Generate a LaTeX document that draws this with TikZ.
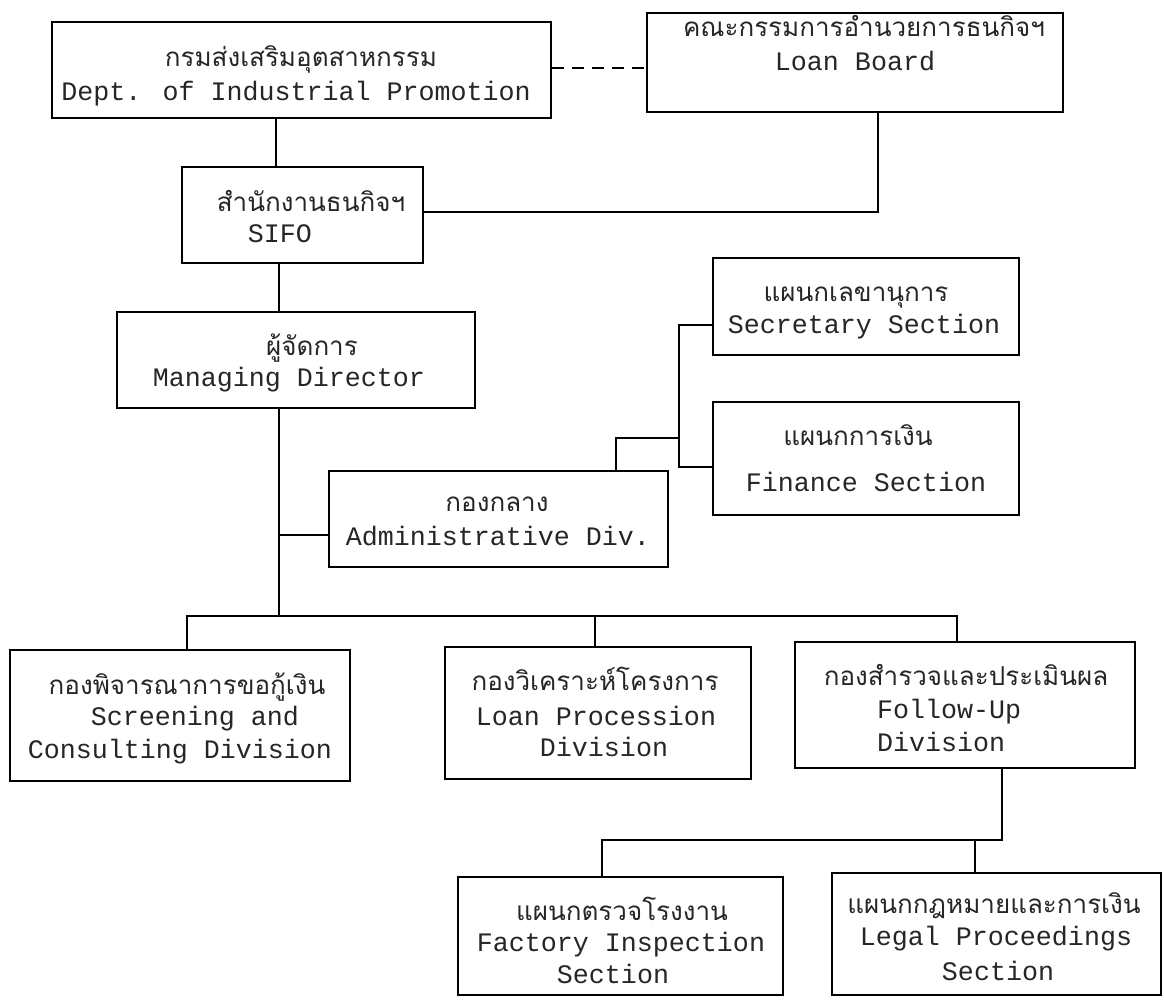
\documentclass[tikz,border=0pt]{standalone}
\usepackage{fontspec}
\newfontfamily\enfont{Liberation Mono}
\newfontfamily\thaifont[Script=Thai]{Loma}
\definecolor{ink}{HTML}{262626}
\begin{document}
\begin{tikzpicture}[x=1pt,y=-1pt,
  box/.style={draw=black, line width=2pt, rectangle, inner sep=0pt},
  conn/.style={draw=black, line width=2pt},
  entext/.style={font=\fontsize{26.67}{30}\selectfont\enfont, anchor=base, inner sep=0pt, text=ink, text height=16pt, text depth=4pt},
  thtext/.style={font=\fontsize{26}{30}\selectfont\thaifont, anchor=base, inner sep=0pt, text=ink, text height=16pt, text depth=3pt}]
\useasboundingbox[fill=white] (0,0) rectangle (1164,1006);
% boxes
\node[box, minimum width=499pt, minimum height=96pt] (dip) at (301.5,70) {};
\node[box, minimum width=416pt, minimum height=99pt] (lb) at (855,62.5) {};
\node[box, minimum width=241pt, minimum height=96pt] (sifo) at (302.5,215) {};
\node[box, minimum width=358pt, minimum height=96pt] (md) at (296,360) {};
\node[box, minimum width=306pt, minimum height=97pt] (sec) at (866,306.5) {};
\node[box, minimum width=306pt, minimum height=113pt] (fin) at (866,458.5) {};
\node[box, minimum width=339pt, minimum height=96pt] (adm) at (498.5,519) {};
\node[box, minimum width=340pt, minimum height=131pt] (scr) at (180,715.5) {};
\node[box, minimum width=306pt, minimum height=132pt] (lp) at (598,713) {};
\node[box, minimum width=340pt, minimum height=126pt] (fu) at (965,705) {};
\node[box, minimum width=325pt, minimum height=118pt] (fac) at (620.5,936) {};
\node[box, minimum width=329pt, minimum height=122pt] (leg) at (996.5,934) {};
% texts
\node[thtext] (dip-th) at (301,67) {กรมส่งเสริมอุตสาหกรรม};
\node[entext] (dip-en) at (296,101) {Dept. of Industrial Promotion};
\node[thtext] (lb-th) at (864,37) {คณะกรรมการอำนวยการธนกิจฯ};
\node[entext] (lb-en) at (855,71) {Loan Board};
\node[thtext] (sifo-th) at (311,211) {สำนักงานธนกิจฯ};
\node[entext] (sifo-en) at (280,242) {SIFO};
\node[thtext] (md-th) at (312,355) {ผู้จัดการ};
\node[entext] (md-en) at (289,386) {Managing Director};
\node[thtext] (sec-th) at (856,301) {แผนกเลขานุการ};
\node[entext] (sec-en) at (864,333) {Secretary Section};
\node[thtext] (fin-th) at (858,445) {แผนกการเงิน};
\node[entext] (fin-en) at (866,491) {Finance Section};
\node[thtext] (adm-th) at (497,511) {กองกลาง};
\node[entext] (adm-en) at (498,545) {Administrative Div.};
\node[thtext] (scr-th) at (187,694) {กองพิจารณาการขอกู้เงิน};
\node[entext] (scr-en1) at (195,725) {Screening and};
\node[entext] (scr-en2) at (180,758) {Consulting Division};
\node[thtext] (lp-th) at (595,690) {กองวิเคราะห์โครงการ};
\node[entext] (lp-en1) at (596,725) {Loan Procession};
\node[entext] (lp-en2) at (604,756) {Division};
\node[thtext] (fu-th) at (966,685) {กองสำรวจและประเมินผล};
\node[entext, anchor=base west] (fu-en1) at (877,718) {Follow-Up};
\node[entext, anchor=base west] (fu-en2) at (877,751) {Division};
\node[thtext] (fac-th) at (622,920) {แผนกตรวจโรงงาน};
\node[entext] (fac-en1) at (621,951) {Factory Inspection};
\node[entext] (fac-en2) at (613,983) {Section};
\node[thtext] (leg-th) at (994,913) {แผนกกฎหมายและการเงิน};
\node[entext] (leg-en1) at (996,945) {Legal Proceedings};
\node[entext] (leg-en2) at (998,980) {Section};
% helper coordinates
\coordinate (xa) at (276,0);
\coordinate (xb) at (279,0);
\coordinate (xlb) at (878,0);
\coordinate (aj) at (279,535);
\coordinate (busL) at (187,616);
\coordinate (busR) at (957,616);
\coordinate (trunk) at (279,616);
\coordinate (lpx) at (595,616);
\coordinate (brT) at (679,325);
\coordinate (brB) at (679,467);
\coordinate (aj2) at (616,438);
\coordinate (subR) at (1002,840);
\coordinate (subL) at (602,840);
\coordinate (legx) at (975,840);
% connectors
\draw[conn, dashed, dash pattern=on 12pt off 8pt] (dip.east |- 0,68) -- (lb.west |- 0,68);
\draw[conn] (xa |- dip.south) -- (xa |- sifo.north);
\draw[conn] (sifo.east |- 0,212) -| (xlb |- lb.south);
\draw[conn] (xb |- sifo.south) -- (xb |- md.north);
\draw[conn] (trunk |- md.south) -- (trunk);
\draw[conn] (aj) -- (aj -| adm.west);
\draw[conn] (busL |- scr.north) -- (busL) -- (busR) -- (busR |- fu.north);
\draw[conn] (lpx) -- (lpx |- lp.north);
\draw[conn] (brT -| sec.west) -- (brT) -- (brB) -- (brB -| fin.west);
\draw[conn] (aj2 |- adm.north) -- (aj2) -- (aj2 -| brT);
\draw[conn] (subR |- fu.south) -- (subR) -- (subL) -- (subL |- fac.north);
\draw[conn] (legx) -- (legx |- leg.north);
\end{tikzpicture}
\end{document}
